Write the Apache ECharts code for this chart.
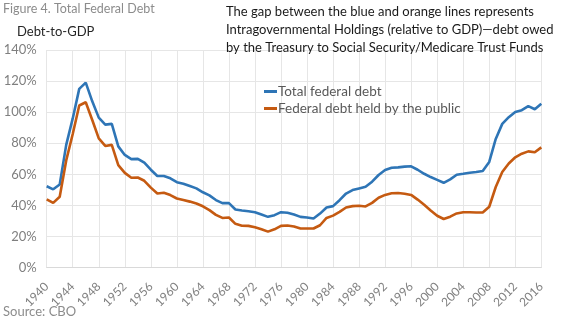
<!DOCTYPE html>
<html><head><meta charset="utf-8">
<script src="https://cdn.jsdelivr.net/npm/echarts@6/dist/echarts.min.js"></script>
<style>html,body{margin:0;padding:0;background:#fff}#c{width:570px;height:321px}</style>
</head><body><div id="c"></div>
<script>
const years = [];
for (let y = 1940; y <= 2016; y++) years.push(String(y));
const totalDebt = [52.4,50.4,53.5,79,96,115,119,107,96.5,92,92.5,78,72.5,69.8,70,67.5,63,59,59,57.5,
  55,54,52.5,51,48.5,46.5,43.5,41.5,41.5,37.4,36.8,36.3,35.7,34.2,32.7,33.8,35.7,35.3,34.2,32.7,
  32.3,31.6,34.8,38.7,39.6,43.4,47.7,49.9,51,52,55.3,59.6,62.8,64.3,64.5,65,65.2,63,60.4,58.3,
  56.5,54.6,56.8,59.8,60.4,61.1,61.5,62.2,68,82.8,92.5,96.8,100.2,101.3,103.9,101.9,105.5];
const publicDebt = [44,41.7,45.6,69,86,104.3,106.4,95,83.2,78.3,79,66,61,57.8,58,55.9,51.5,47.7,48.2,46.7,
  44.5,43.5,42.5,41.3,39.5,37,34,32,32.3,28.2,27,26.9,26,24.7,23.2,24.7,26.9,27.1,26.5,25.2,
  25.2,25.2,27.3,32,33.5,35.9,38.7,39.6,39.8,39.4,41.7,45,46.8,47.9,48,47.6,46.8,43.8,40.5,36.8,
  33.4,31.3,32.8,34.9,35.7,35.7,35.5,35.5,39.2,51.9,61.5,67,71,73.3,74.8,74.2,77.4];
const seriesNames = ['Total federal debt','Federal debt held by the public'];
const yTicks = [0,20,40,60,80,100,120,140];

const FONT = 'Lato';
const chart = echarts.init(document.getElementById('c'), null, {renderer:'canvas'});
chart.setOption({
  animation:false,
  textStyle:{fontFamily:FONT},
  title:[
    {text:'Figure 4. Total Federal Debt', left:3, top:2, padding:0, textStyle:{fontFamily:FONT,fontSize:12.5,fontWeight:'normal',color:'#8c8c8c'}},
    {text:'Debt-to-GDP', left:17, top:25, padding:0, textStyle:{fontFamily:FONT,fontSize:13,fontWeight:'normal',color:'#262626'}},
    {text:'The gap between the blue and orange lines represents\nIntragovernmental Holdings (relative to GDP)\u2014debt owed\nby the Treasury to Social Security/Medicare Trust Funds',
     left:226, top:3, padding:0, textStyle:{fontFamily:FONT,fontSize:13,fontWeight:'normal',color:'#1a1a1a',lineHeight:18}},
    {text:'Source: CBO', left:3, top:305, padding:0, textStyle:{fontFamily:FONT,fontSize:13,fontWeight:'normal',color:'#8c8c8c'}}
  ],
  legend:{
    orient:'vertical', left:264, top:84, itemGap:2, padding:0,
    icon:'rect', itemWidth:13, itemHeight:3,
    textStyle:{fontFamily:FONT,fontSize:13.5,color:'#595959',lineHeight:15,padding:[0,0,0,-4]},
    data:seriesNames
  },
  grid:{left:46.7, right:28.7, top:50, bottom:53.3, containLabel:false},
  xAxis:{
    type:'category', data:years, boundaryGap:false,
    axisLine:{lineStyle:{color:'#d9d9d9'}},
    axisTick:{show:false},
    axisLabel:{interval:3, rotate:45, fontFamily:FONT, fontSize:12, color:'#7f7f7f', margin:17},
    splitLine:{show:true, interval:3, lineStyle:{color:'#e6e6e6'}}
  },
  yAxis:{
    type:'value', min:yTicks[0], max:yTicks[yTicks.length-1], interval:20,
    axisLine:{show:false}, axisTick:{show:false},
    axisLabel:{formatter:'{value}%', fontFamily:FONT, fontSize:13, color:'#7f7f7f', margin:10},
    splitLine:{lineStyle:{color:'#e6e6e6'}}
  },
  series:[
    {name:seriesNames[0], type:'line', data:totalDebt, showSymbol:false, symbol:'none',
     lineStyle:{width:2.6,color:'#2e75b6'}, itemStyle:{color:'#2e75b6'}},
    {name:seriesNames[1], type:'line', data:publicDebt, showSymbol:false, symbol:'none',
     lineStyle:{width:2.6,color:'#c55a11'}, itemStyle:{color:'#c55a11'}}
  ]
});
</script></body></html>
